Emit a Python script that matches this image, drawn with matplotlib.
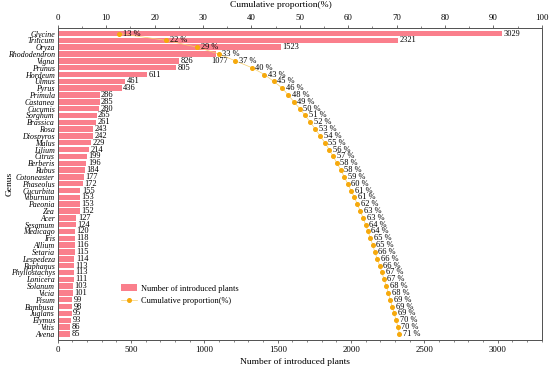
import matplotlib
matplotlib.use("Agg")
import matplotlib.pyplot as plt
from matplotlib.ticker import MultipleLocator

plt.rcParams['font.family'] = ['Liberation Serif', 'DejaVu Serif']

genera = ["Glycine", "Triticum", "Oryza", "Rhododendron", "Vigna", "Prunus", "Hordeum",
          "Ulmus", "Pyrus", "Primula", "Castanea", "Cucumis", "Sorghum", "Brassica", "Rosa",
          "Diospyros", "Malus", "Lilium", "Citrus", "Berberis", "Rubus", "Cotoneaster",
          "Phaseolus", "Cucurbita", "Viburnum", "Paeonia", "Zea", "Acer", "Sesamum",
          "Medicago", "Iris", "Allium", "Setaria", "Lespedeza", "Raphanus", "Phyllostachys",
          "Lonicera", "Solanum", "Vicia", "Pisum", "Bambusa", "Juglans", "Elymus", "Vitis", "Avena"]
counts = [3029, 2321, 1523, 1077, 826, 805, 611, 461, 436, 286, 285, 280, 265, 261, 243,
          242, 229, 214, 199, 196, 184, 177, 172, 155, 153, 153, 152, 127, 124, 120, 118,
          116, 115, 114, 113, 113, 111, 103, 101, 99, 98, 95, 93, 86, 85]
cum_pct = [12.7, 22.4, 28.8, 33.3, 36.7, 40.1, 42.7, 44.6, 46.4, 47.6, 48.8, 50.0, 51.1,
           52.2, 53.2, 54.2, 55.2, 56.1, 56.9, 57.7, 58.5, 59.2, 59.9, 60.6, 61.3, 61.9,
           62.5, 63.1, 63.6, 64.1, 64.6, 65.1, 65.5, 66.0, 66.5, 67.0, 67.4, 67.9, 68.3,
           68.7, 69.1, 69.5, 69.9, 70.3, 70.6]
cum_labels = [13, 22, 29, 33, 37, 40, 43, 45, 46, 48, 49, 50, 51, 52, 53, 54, 55, 56, 57,
              58, 58, 59, 60, 61, 61, 62, 63, 63, 64, 64, 65, 65, 66, 66, 66, 67, 67, 68,
              68, 69, 69, 69, 70, 70, 71]

bar_color = '#FA7F8C'
dot_color = '#F6A90C'
line_color = '#F8CF6A'
spine_color = '#555555'
fs = 6.0

fig = plt.figure(figsize=(5.5, 3.7), dpi=100)
ax = fig.add_axes([0.105, 0.081, 0.88, 0.844])
ypos = list(range(len(genera)))
bars = ax.barh(ypos, counts, height=0.8, color=bar_color, label='Number of introduced plants', zorder=2)
ax.set_xlim(0, 3300)
ax.set_ylim(len(genera) - 1 + 0.9, -0.85)
ax.set_yticks(ypos)
ax.set_yticklabels(genera, fontstyle='italic', fontsize=5.7)
ax.tick_params(axis='y', length=0, pad=2)
ax.xaxis.set_major_locator(MultipleLocator(500))
ax.xaxis.set_minor_locator(MultipleLocator(100))
ax.tick_params(axis='x', which='major', length=2.5, width=0.6, labelsize=fs + 0.3, pad=2, color=spine_color)
ax.tick_params(axis='x', which='minor', length=1.5, width=0.5, color=spine_color)
ax.set_xlabel('Number of introduced plants', fontsize=6.8)
ax.set_ylabel('Genus', fontsize=6.8)
ax.xaxis.set_label_coords(0.49, -0.058)
ax.yaxis.set_label_coords(-0.092, 0.5)

for i, (c, v) in enumerate(zip(counts, ypos)):
    if genera[i] == "Rhododendron":
        ax.annotate(str(c), (c, v), xytext=(-3.5, -4.9), textcoords='offset points',
                    va='center', ha='left', fontsize=fs)
    else:
        ax.annotate(str(c), (c, v), xytext=(1, 0), textcoords='offset points',
                    va='center', ha='left', fontsize=fs)

ax2 = ax.twiny()
ax2.set_xlim(0, 100)
line, = ax2.plot(cum_pct, ypos, color=line_color, linewidth=0.5, marker='o', markersize=2.6,
                 markerfacecolor=dot_color, markeredgecolor=dot_color, zorder=3,
                 label='Cumulative proportion(%)')
for p, lab, v in zip(cum_pct, cum_labels, ypos):
    ax2.annotate(f'{lab} %', (p, v), xytext=(2.5, 0), textcoords='offset points',
                 va='center', ha='left', fontsize=fs)
ax2.xaxis.set_major_locator(MultipleLocator(10))
ax2.xaxis.set_minor_locator(MultipleLocator(5))
ax2.tick_params(axis='x', which='major', length=2.5, width=0.6, labelsize=fs + 0.3, pad=2, color=spine_color)
ax2.tick_params(axis='x', which='minor', length=1.5, width=0.5, color=spine_color)
ax2.set_xlabel('Cumulative proportion(%)', fontsize=6.8)
ax2.xaxis.set_label_coords(0.46, 1.065)

for a in (ax, ax2):
    for s in a.spines.values():
        s.set_color(spine_color)
        s.set_linewidth(0.7)

ax.legend([bars, line], ['Number of introduced plants', 'Cumulative proportion(%)'],
          loc='upper left', bbox_to_anchor=(0.117, 0.2), frameon=False, fontsize=fs,
          handlelength=1.9, handleheight=0.9, labelspacing=0.55, handletextpad=0.5,
          borderpad=0.3)

fig.savefig('out.png', dpi=100)
